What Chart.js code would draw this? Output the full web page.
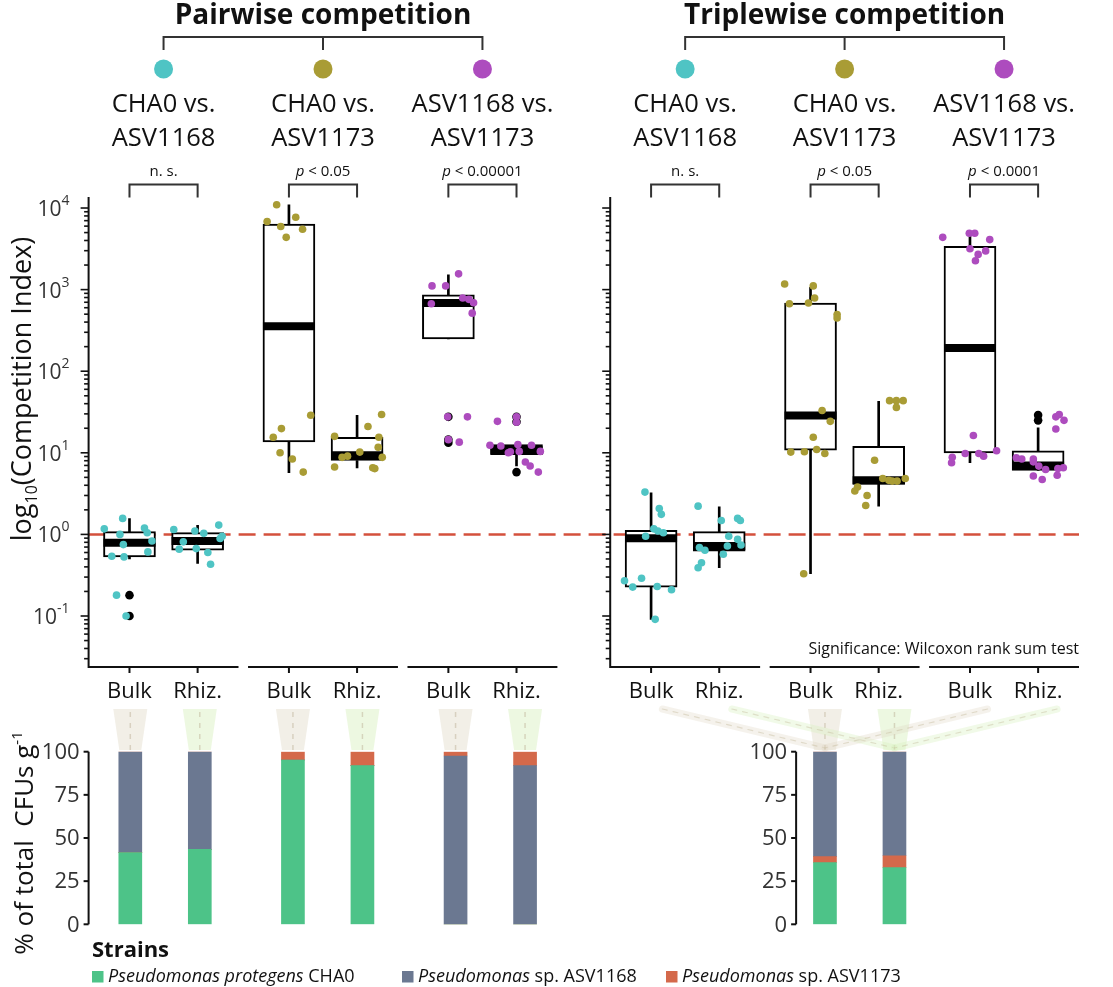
<!DOCTYPE html>
<html>
<head>
<meta charset="utf-8">
<script src="https://cdn.jsdelivr.net/npm/chart.js@4.4.1/dist/chart.umd.min.js"></script>
<style>
  body { margin: 0; background: #fff; }
  #wrap { position: relative; width: 1113px; height: 987px; }
  canvas { position: absolute; left: 0; top: 0; }
</style>
</head>
<body>
<div id="wrap">
  <canvas id="boxChart" width="1113" height="987"></canvas>
  <canvas id="cfuChart" width="1113" height="987"></canvas>
</div>
<script>
// ---- data ----
const panels = ['Pairwise competition', 'Triplewise competition'];
const comparisons = [['CHA0 vs.', 'ASV1168'], ['CHA0 vs.', 'ASV1173'], ['ASV1168 vs.', 'ASV1173']];
const compColors = ['#4fc4c4', '#a99c35', '#ad4cbe'];
const compartments = ['Bulk', 'Rhiz.'];
const pLabels = [['n. s.', 'p < 0.05', 'p < 0.00001'], ['n. s.', 'p < 0.05', 'p < 0.0001']];
const logTicks = [0.1, 1, 10, 100, 1000, 10000];
const pctTicks = [0, 25, 50, 75, 100];

// box stats, one row per comparison x compartment: [lower whisker, Q1, median, Q3, upper whisker]
const boxPair = [
  [0.50, 0.53, 0.79, 1.08, 1.56], [0.44, 0.64, 0.83, 1.05, 1.29],
  [5.7, 13.6, 355, 6350, 10960], [6.55, 8.05, 9.35, 15.5, 28.8],
  [248, 248, 685, 866, 1520], [6.9, 9.5, 10.8, 12.6, 12.6]
];
const boxTriple = [
  [0.091, 0.226, 0.90, 1.12, 3.24], [0.39, 0.625, 0.72, 1.08, 2.18],
  [0.33, 10.8, 28.6, 685, 1070], [2.22, 4.1, 4.6, 12.0, 42.8],
  [7.55, 10, 193, 3380, 4700], [6.1, 6.1, 7.0, 10.6, 20.2]
];
const outPair = [[0.18, 0.10], [], [], [], [27.6, 14.5, 13.3], [27.6, 24, 5.8]];
const outTriple = [[], [], [], [], [], [29, 25]];

// observed competition indices and their horizontal jitter (in category widths)
const obsPair = [
  [1.57, 1.17, 1.2, 1.05, 1.0, 0.83, 0.75, 0.61, 0.54, 0.53, 0.18, 0.10],
  [1.15, 1.1, 1.03, 1.3, 0.95, 0.81, 0.89, 0.66, 0.67, 0.6, 0.43],
  [10960, 6830, 7700, 5940, 5500, 4370, 28.8, 19.8, 15.5, 10, 8.4, 5.8],
  [29.5, 21, 15.9, 15.5, 11.7, 10.2, 8.8, 9.1, 8.8, 6.7, 6.55, 6.4],
  [1560, 1110, 1110, 790, 760, 670, 690, 515, 27.6, 14.5, 13.5, 27.6],
  [24.3, 27.6, 23.7, 12.4, 12.1, 12.6, 12.4, 10.3, 10.4, 10.4, 7.7, 6.9, 5.8, 10]
];
const jitPair = [
  [-0.10, -0.37, 0.22, 0.26, -0.14, 0.33, -0.09, 0.27, -0.26, -0.08, -0.19, -0.05],
  [-0.35, -0.04, 0.09, 0.31, 0.36, -0.21, 0.33, -0.27, -0.02, 0.15, 0.19],
  [-0.18, -0.32, 0.10, -0.12, 0.20, -0.04, 0.32, -0.11, -0.23, -0.13, 0.05, 0.21],
  [0.36, 0.16, -0.33, 0.32, 0.31, 0.04, 0.37, -0.14, -0.22, -0.33, 0.23, 0.26],
  [0.15, -0.24, -0.04, 0.21, 0.30, -0.25, 0.37, 0.35, 0.28, 0.0, 0.16, -0.01],
  [-0.28, 0.0, 0.0, -0.39, -0.23, 0.02, 0.22, -0.09, 0.04, 0.35, 0.13, 0.20, 0.32, -0.12]
];
const obsTriple = [
  [3.3, 2.08, 1.76, 1.17, 1.1, 1.05, 0.95, 0.27, 0.226, 0.29, 0.23, 0.21, 0.091],
  [2.22, 1.48, 1.57, 1.48, 0.95, 0.87, 0.74, 0.69, 0.64, 0.72, 0.57, 0.45, 0.39],
  [1170, 1110, 790, 670, 685, 495, 450, 33, 24.3, 15.5, 10.2, 10.3, 11, 9.8, 0.33],
  [43.6, 43.6, 43.6, 36, 8.1, 4.85, 4.6, 4.5, 4.85, 4.5, 3.8, 3.4, 3.0, 2.26],
  [4370, 4900, 4900, 4100, 3170, 2980, 2700, 2260, 16.3, 8.8, 7.55, 9.8, 9.8, 9.1, 10.6],
  [29.5, 25, 19.6, 27.6, 8.7, 8.4, 8.4, 6.87, 6.25, 6.4, 6.55, 5.2, 4.7, 5.3, 7.75]
];
const jitTriple = [
  [-0.09, 0.12, 0.15, 0.04, 0.10, 0.18, -0.08, -0.39, -0.27, -0.14, 0.09, 0.30, 0.06],
  [-0.31, 0.03, 0.27, 0.31, 0.14, 0.27, 0.32, -0.29, -0.21, 0.12, 0.06, -0.26, -0.31],
  [-0.38, 0.04, 0.06, -0.31, -0.03, 0.39, 0.39, 0.17, 0.29, 0.04, -0.29, -0.09, 0.09, 0.21, -0.10],
  [0.16, 0.26, 0.36, 0.26, -0.06, 0.06, 0.15, 0.27, 0.39, 0.20, -0.31, -0.35, -0.17, -0.19],
  [-0.40, -0.01, 0.07, 0.29, 0.0, 0.23, 0.12, 0.08, 0.05, -0.26, -0.27, -0.07, 0.13, 0.20, 0.39],
  [0.31, 0.38, 0.26, 0.26, -0.32, -0.24, -0.07, 0.01, 0.11, 0.29, 0.37, -0.07, 0.06, 0.28, -0.07]
];

// % of total CFUs per bar (panel, comparison, compartment)
const barPanel = [0, 0, 0, 0, 0, 0, 1, 1];
const barComp = [0, 0, 1, 1, 2, 2, 1, 1];
const barCompart = [0, 1, 0, 1, 0, 1, 0, 1];
const strains = ['Pseudomonas protegens', 'Pseudomonas', 'Pseudomonas'];
const strainTags = [' CHA0', ' sp. ASV1168', ' sp. ASV1173'];
const strainColors = ['#4dc388', '#6b7891', '#d4694b'];
const pctCHA0 = [41.5, 43.4, 95.2, 91.9, 0, 0, 35.7, 32.8];
const pct1173Low = [0, 0, 0, 0, 0, 0, 3.5, 6.9];
const pct1168 = [58.5, 56.6, 0, 0, 97.5, 91.9, 60.8, 60.3];
const pct1173Top = [0, 0, 4.8, 8.1, 2.5, 8.1, 0, 0];

// ---- layout ----
const W = 1113, H = 987;
const F = '"Open Sans", sans-serif';
const PAD_L = 88.6, PAD_R = 14.2, X_MAX = 14.535;
const PANEL_OFF = [0, 7.655];
const FACET_STEP = 2.34, FACET_W = 2.2, CAT_PAD = 0.6;
const CFU_AXIS = [0, 10.18];
const xPos = (p, f, c) => PANEL_OFF[p] + f * FACET_STEP + CAT_PAD + c;

function line(ctx, x1, y1, x2, y2, w, col) {
  ctx.beginPath(); ctx.lineWidth = w; ctx.strokeStyle = col;
  ctx.moveTo(x1, y1); ctx.lineTo(x2, y2); ctx.stroke();
}
// parts: [text, font, dy]
function rich(ctx, parts, x, y, align) {
  let total = 0;
  parts.forEach(q => { ctx.font = q[1]; total += ctx.measureText(q[0]).width; });
  let cx = align === 'center' ? x - total / 2 : align === 'right' ? x - total : x;
  ctx.textAlign = 'left';
  parts.forEach(q => {
    ctx.font = q[1]; ctx.fillText(q[0], cx, y + (q[2] || 0));
    cx += ctx.measureText(q[0]).width;
  });
}

// ---- box plot chart ----
const whisk = [], boxes = [], meds = [], outs = [], pts = [[], [], []];
[[boxPair, obsPair, jitPair, outPair], [boxTriple, obsTriple, jitTriple, outTriple]].forEach(([bx, ob, jt, ou], p) => {
  bx.forEach((s, i) => {
    const f = Math.floor(i / 2), xc = xPos(p, f, i % 2);
    whisk.push({x: xc, y: [s[0], s[1]]}, {x: xc, y: [s[3], s[4]]});
    boxes.push({x: xc, y: [s[1], s[3]]});
    meds.push({x: xc, y: s[2]});
    ou[i].forEach(v => outs.push({x: xc, y: v}));
    ob[i].forEach((v, k) => pts[f].push({x: xc + jt[i][k], y: v}));
  });
});
const BOX_PX = 52;
const boxSets = [
  ...pts.map((d, f) => ({type: 'scatter', data: d, order: 0, pointRadius: 3.8, pointBorderWidth: 0,
    pointBackgroundColor: compColors[f]})),
  {type: 'scatter', data: outs, order: 1, pointRadius: 4.3, pointBorderWidth: 0, pointBackgroundColor: '#000'},
  {type: 'scatter', data: meds, order: 2, pointStyle: 'line', pointRadius: BOX_PX / 2,
    pointBorderWidth: 8, pointBorderColor: '#000'},
  {type: 'bar', data: boxes, order: 3, grouped: false, barThickness: BOX_PX, backgroundColor: '#fff',
    borderColor: '#000', borderWidth: 2, borderSkipped: false},
  {type: 'bar', data: whisk, order: 4, grouped: false, barThickness: 2, backgroundColor: '#000'}
];

const boxDecor = {
  id: 'boxDecor',
  beforeDatasetsDraw(chart) {
    const {ctx, chartArea: a, scales: {y}} = chart;
    const yy = y.getPixelForValue(1);
    ctx.save();
    ctx.setLineDash([17, 8]);
    line(ctx, a.left, yy, a.right, yy, 2.5, '#d4503c');
    ctx.restore();
  },
  afterDraw(chart) {
    const {ctx, chartArea: a, scales: {x, y}} = chart;
    ctx.save();
    ctx.lineCap = 'butt';
    PANEL_OFF.forEach((off, p) => {
      const ax = x.getPixelForValue(off);
      line(ctx, ax, a.top, ax, a.bottom + 1, 2, '#111');
      for (let e = -2; e <= 4; e++) for (let m = 1; m < 10; m++) {
        const v = m * Math.pow(10, e);
        if (v < y.min || v > y.max) continue;
        const py = y.getPixelForValue(v);
        line(ctx, ax - (m === 1 ? 8 : 4.5), py, ax, py, 1.6, '#111');
      }
      if (p === 0) {
        ctx.fillStyle = '#333'; ctx.textBaseline = 'alphabetic';
        logTicks.forEach(v => {
          const py = y.getPixelForValue(v);
          rich(ctx, [['10', '21px ' + F], [String(Math.round(Math.log10(v))), '14px ' + F, -11]], ax - 19, py + 8, 'right');
        });
      }
      // header
      ctx.fillStyle = '#111';
      const cMid = (f) => x.getPixelForValue(xPos(p, f, 0.5));
      ctx.font = 'bold 28px ' + F; ctx.textAlign = 'center';
      ctx.fillText(panels[p], cMid(1), 24);
      line(ctx, cMid(0), 37, cMid(2), 37, 2, '#333');
      for (let f = 0; f < 3; f++) {
        const cx = cMid(f);
        line(ctx, cx, 36, cx, 50, 2, '#333');
        ctx.beginPath(); ctx.fillStyle = compColors[f];
        ctx.arc(cx, 69, 9.5, 0, Math.PI * 2); ctx.fill();
        ctx.fillStyle = '#111'; ctx.font = '25.5px ' + F; ctx.textAlign = 'center';
        ctx.fillText(comparisons[f][0], cx, 112);
        ctx.fillText(comparisons[f][1], cx, 145.5);
        const lab = pLabels[p][f];
        if (lab.startsWith('p')) rich(ctx, [['p', 'italic 15px ' + F], [lab.slice(1), '15px ' + F]], cx, 175.5, 'center');
        else { ctx.font = '15px ' + F; ctx.textAlign = 'center'; ctx.fillText(lab, cx, 175.5); }
        const bx = x.getPixelForValue(xPos(p, f, 0)), rx = x.getPixelForValue(xPos(p, f, 1));
        ctx.beginPath(); ctx.lineWidth = 2; ctx.strokeStyle = '#333';
        ctx.moveTo(bx, 197.5); ctx.lineTo(bx, 184.5); ctx.lineTo(rx, 184.5); ctx.lineTo(rx, 197.5); ctx.stroke();
        // facet x axis
        const x0 = x.getPixelForValue(off + f * FACET_STEP), x1 = x.getPixelForValue(off + f * FACET_STEP + FACET_W);
        line(ctx, x0, a.bottom, x1, a.bottom, 2, '#111');
        compartments.forEach((c, k) => {
          const px = x.getPixelForValue(xPos(p, f, k));
          line(ctx, px, a.bottom, px, a.bottom + 6, 2, '#111');
          ctx.fillStyle = '#111'; ctx.font = '22px ' + F; ctx.textAlign = 'center';
          ctx.fillText(c, px, 698);
        });
      }
    });
    ctx.fillStyle = '#111'; ctx.font = '16px ' + F; ctx.textAlign = 'right';
    ctx.fillText('Significance: Wilcoxon rank sum test', a.right, 654);
    ctx.translate(31, 389); ctx.rotate(-Math.PI / 2);
    rich(ctx, [['log', '27px ' + F], ['10', '16px ' + F, 6], ['(Competition Index)', '27px ' + F]], 0, 0, 'center');
    ctx.restore();
  }
};

new Chart(document.getElementById('boxChart'), {
  type: 'bar',
  data: {datasets: boxSets},
  options: {
    responsive: false, animation: false, devicePixelRatio: 1, events: [],
    layout: {padding: {left: PAD_L, right: PAD_R, top: 197, bottom: H - 667}},
    scales: {
      x: {type: 'linear', min: 0, max: X_MAX, offset: false, display: false},
      y: {type: 'logarithmic', min: Math.pow(10, -1.625), max: Math.pow(10, 4.135), offset: false, display: false}
    },
    plugins: {legend: {display: false}, tooltip: {enabled: false}}
  },
  plugins: [boxDecor]
});

// ---- stacked CFU bars ----
const barX = barPanel.map((p, i) => xPos(p, barComp[i], barCompart[i]));
const stackSets = [
  [pctCHA0, strainColors[0]], [pct1173Low, strainColors[2]],
  [pct1168, strainColors[1]], [pct1173Top, strainColors[2]]
].map(([vals, col]) => ({
  data: vals.map((v, i) => ({x: barX[i], y: v})),
  backgroundColor: col, grouped: false, barThickness: 23, borderWidth: 0
}));

const cfuDecor = {
  id: 'cfuDecor',
  beforeDraw(chart) {
    const {ctx, scales: {x}} = chart;
    ctx.save();
    const fills = ['rgba(222,212,192,0.38)', 'rgba(214,240,188,0.45)'];
    const funnel = (px) => {
      ctx.beginPath();
      ctx.moveTo(px - 17, 709); ctx.lineTo(px + 17, 709); ctx.lineTo(px + 11, 750); ctx.lineTo(px - 11, 750);
      ctx.closePath(); ctx.fill();
    };
    barX.forEach((v, i) => {
      const px = x.getPixelForValue(v);
      ctx.fillStyle = fills[barCompart[i]]; funnel(px);
      ctx.setLineDash([5, 6]); line(ctx, px, 712, px, 750, 1.5, 'rgba(185,170,145,0.45)'); ctx.setLineDash([]);
    });
    // faint links from the outer triplewise comparisons to the measured middle one
    [0, 2].forEach(f => compartments.forEach((c, k) => {
      const px0 = x.getPixelForValue(xPos(1, f, k)), px1 = x.getPixelForValue(xPos(1, 1, k));
      ctx.lineCap = 'round';
      line(ctx, px0, 709, px1, 748, 7, k ? 'rgba(214,240,188,0.35)' : 'rgba(222,212,192,0.3)');
      ctx.setLineDash([5, 6]);
      line(ctx, px0, 709, px1, 748, 1.2, 'rgba(185,175,140,0.35)');
      ctx.setLineDash([]);
    }));
    ctx.restore();
  },
  afterDraw(chart) {
    const {ctx, scales: {x, y}} = chart;
    ctx.save();
    CFU_AXIS.forEach(off => {
      const ax = x.getPixelForValue(off);
      line(ctx, ax, y.getPixelForValue(100), ax, y.getPixelForValue(0), 2, '#111');
      pctTicks.forEach(t => {
        const py = y.getPixelForValue(t);
        line(ctx, ax - 5, py, ax, py, 2, '#111');
        ctx.fillStyle = '#333'; ctx.font = '22px ' + F; ctx.textAlign = 'right'; ctx.textBaseline = 'middle';
        ctx.fillText(String(t), ax - 9, py + 1);
      });
    });
    ctx.textBaseline = 'alphabetic';
    ctx.fillStyle = '#111'; ctx.font = 'bold 22px ' + F; ctx.textAlign = 'left';
    ctx.fillText('Strains', 92, 957);
    const legX = [92, 402, 666];
    strains.forEach((s, i) => {
      ctx.fillStyle = strainColors[i]; ctx.fillRect(legX[i], 971, 11.5, 11.5);
      ctx.fillStyle = '#111';
      rich(ctx, [[s, 'italic 18px ' + F], [strainTags[i], '18px ' + F]], legX[i] + 16, 982, 'left');
    });
    ctx.translate(33, 843); ctx.rotate(-Math.PI / 2);
    rich(ctx, [['% of total  CFUs g', '26px ' + F], ['-1', '15px ' + F, -11]], 0, 0, 'center');
    ctx.restore();
  }
};

new Chart(document.getElementById('cfuChart'), {
  type: 'bar',
  data: {datasets: stackSets},
  options: {
    responsive: false, animation: false, devicePixelRatio: 1, events: [],
    layout: {padding: {left: PAD_L, right: PAD_R, top: 751.7, bottom: H - 924.3}},
    scales: {
      x: {type: 'linear', min: 0, max: X_MAX, offset: false, display: false, stacked: true},
      y: {type: 'linear', min: 0, max: 100, display: false, stacked: true}
    },
    plugins: {legend: {display: false}, tooltip: {enabled: false}}
  },
  plugins: [cfuDecor]
});
</script>
</body>
</html>
